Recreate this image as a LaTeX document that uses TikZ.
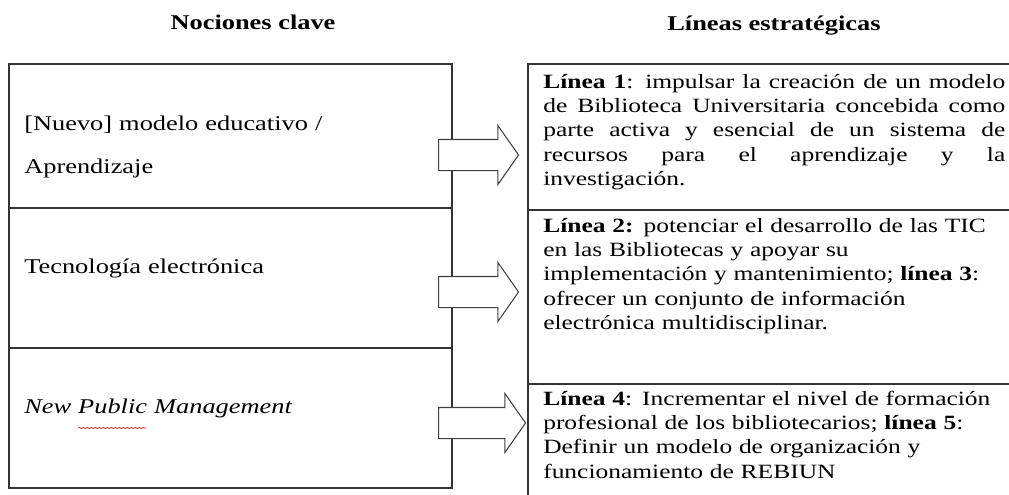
\documentclass[tikz,border=0pt]{standalone}
\usepackage{fontspec}
\setmainfont{Liberation Serif}[FakeStretch=1.257]
\usetikzlibrary{shapes.arrows,decorations.pathmorphing}

\newcommand\fullline[1]{\leavevmode\hbox to\hsize{\spaceskip=0pt\xspaceskip=0pt #1}}

\begin{document}
\begin{tikzpicture}[x=0.75pt,y=-0.75pt]
  \tikzset{frame/.style={draw=black!80,line width=1pt}}
  \tikzset{title/.style={anchor=base,inner sep=0pt,font=\fontsize{15.75}{18.2}\selectfont\bfseries}}
  \tikzset{notion/.style={anchor=north west,inner sep=0pt,text width=310pt,align=left,font=\fontsize{15.75}{32.25}\selectfont}}
  \tikzset{strategy/.style={anchor=north west,inner sep=0pt,text width=346.5pt,align=left,font=\fontsize{15.2}{18.2}\selectfont}}
  \tikzset{blockarrow/.style={single arrow,draw=black!75,fill=white,line width=0.8pt,anchor=tail,
      inner xsep=0pt,inner ysep=11.25pt,minimum width=43.5pt,minimum height=60pt,
      single arrow head extend=10.5pt,single arrow tip angle=110,single arrow head indent=0pt}}
  \useasboundingbox (0,0) rectangle (1009,494);
  \clip (0,0) rectangle (1009,494);

  % headings
  \node[title] (hnoc) at (253,29) {Nociones clave};
  \node[title] (hlin) at (774,30) {Líneas estratégicas};

  % left table
  \draw[frame] (9,64) rectangle (452,488);
  \draw[frame] (9,208) -- (452,208);
  \draw[frame] (9,348) -- (452,348);

  % right table (runs off the page)
  \draw[frame] (1030,64) -- (528,64) -- (528,520);
  \draw[frame] (528,210) -- (1030,210);
  \draw[frame] (528,384) -- (1030,384);

  \node[notion] (noc1) at (24,100) {\strut[Nuevo] modelo educativo /\\Aprendizaje};
  \node[notion] (noc2) at (24,243) {\strut Tecnología electrónica};
  \node[notion] (noc3) at (24,383) {\strut\textit{New Public Management}};
  \draw[red,decorate,decoration={snake,amplitude=0.6pt,segment length=3pt}] (78,428) -- (146,428);

  \node[blockarrow] (arr1) at (438,155) {};
  \node[blockarrow] (arr2) at (438,292) {};
  \node[blockarrow,minimum height=65.25pt] (arr3) at (438,423) {};

  \node[strategy,align=justify] (lin1) at (543,71) {\strut
    \fullline{\textbf{Línea 1}: impulsar la creación de un modelo}\\
    \fullline{de Biblioteca Universitaria concebida como}\\
    \fullline{parte activa y esencial de un sistema de}\\
    \fullline{recursos para el aprendizaje y la}\\
    investigación.};
  \node[strategy] (lin2) at (543,215) {\strut\textbf{Línea 2:} potenciar el desarrollo de las TIC\\
    en las Bibliotecas y apoyar su\\
    implementación y mantenimiento; \textbf{línea 3}:\\
    ofrecer un conjunto de información\\
    electrónica multidisciplinar.};
  \node[strategy] (lin3) at (543,388) {\strut\textbf{Línea 4}: Incrementar el nivel de formación\\
    profesional de los bibliotecarios; \textbf{línea 5}:\\
    Definir un modelo de organización y\\
    funcionamiento de REBIUN};
\end{tikzpicture}
\end{document}
